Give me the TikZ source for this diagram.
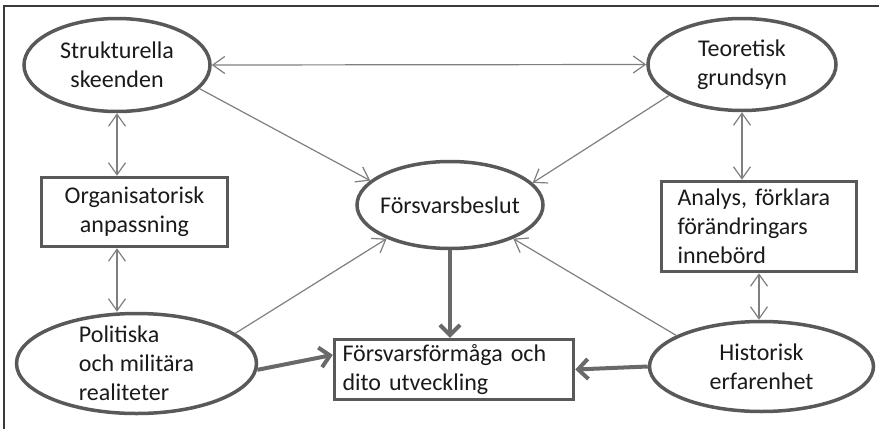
\documentclass[tikz,border=0pt]{standalone}
\usepackage{fontspec}
\setmainfont{Carlito}
\usetikzlibrary{shapes.geometric,arrows.meta,calc}
\definecolor{nodeline}{HTML}{595959}
\definecolor{thinline}{HTML}{7F7F7F}
\definecolor{thickline}{HTML}{696969}
\definecolor{framec}{HTML}{3A3A3A}
\definecolor{txtc}{HTML}{1A1A1A}
\tikzset{
  ell/.style={draw=nodeline, line width=3.5pt, ellipse, inner sep=0pt},
  boxn/.style={draw=nodeline, line width=3.5pt, rectangle, inner sep=0pt, text=txtc, font=\fontsize{24}{29}\selectfont},
  txt/.style={text=txtc, font=\fontsize{24}{29}\selectfont, inner sep=0pt},
  thin/.style={draw=thinline, line width=1.2pt, {Straight Barb[length=12pt,width=17pt]}-{Straight Barb[length=12pt,width=17pt]}},
  thinone/.style={draw=thinline, line width=1.2pt, -{Straight Barb[length=12pt,width=17pt]}},
  thick/.style={draw=thickline, line width=4pt, -{Straight Barb[length=10pt,width=20pt]}},
}
\begin{document}
\begin{tikzpicture}[x=1pt,y=-1pt]
\useasboundingbox (0,0) rectangle (879,429);
\draw[framec, line width=1.2pt] (4,429) -- (4,6) -- (879,6);

\node[ell, minimum width=186pt, minimum height=93pt,
  label={[txt,align=center]center:Strukturella\\skeenden}] (S) at (117,65) {};
\node[ell, minimum width=188pt, minimum height=92pt,
  label={[txt,align=center]center:Teoretisk\\grundsyn}] (T) at (742,64.5) {};
\node[boxn, minimum width=186pt, minimum height=69pt, align=center] (O) at (134.5,212) {Organisatorisk\\anpassning};
\node[ell, minimum width=186pt, minimum height=87pt,
  label={[txt]center:Försvarsbeslut}] (F) at (450,205) {};
\node[boxn, minimum width=195pt, minimum height=90pt, text width=163pt, align=left] (A) at (759,226.5) {Analys, förklara\\förändringars\\innebörd};
\node[ell, minimum width=240pt, minimum height=100pt,
  label={[txt,align=left]center:Politiska\\och militära\\realiteter}] (P) at (136.5,363.5) {};
\node[boxn, minimum width=239pt, minimum height=60pt, text width=223pt, align=left] (FF) at (454,369.5) {Försvarsförmåga och\\dito utveckling};
\node[ell, minimum width=224pt, minimum height=90pt,
  label={[txt,align=center]center:Historisk\\erfarenhet}] (H) at (761.5,366.5) {};

% thin connectors
\draw[thin] (S.east) -- (T.west);
\draw[thinone] (S.-16) -- (F.163);
\draw[thinone] (T.203) -- (F.15);
\draw[thinone] (P.17) -- (F.208);
\draw[thinone] (H.160) -- (F.-28);
\draw[thin] (S.south) -- (S.south |- O.north);
\draw[thin] (O.south -| S.south) -- (P.north -| S.south);
\draw[thin] (T.south) -- (T.south |- A.north);
\draw[thin] (A.south) -- (A.south |- H.north);

% thick connectors
\draw[thick] (F.south) -- (FF.north -| F.south);
\draw[thick] (P.-3) -- ($(FF.south west)!0.73!(FF.north west)$);
\draw[thick] (H.west) -- (FF.east);
\end{tikzpicture}
\end{document}
